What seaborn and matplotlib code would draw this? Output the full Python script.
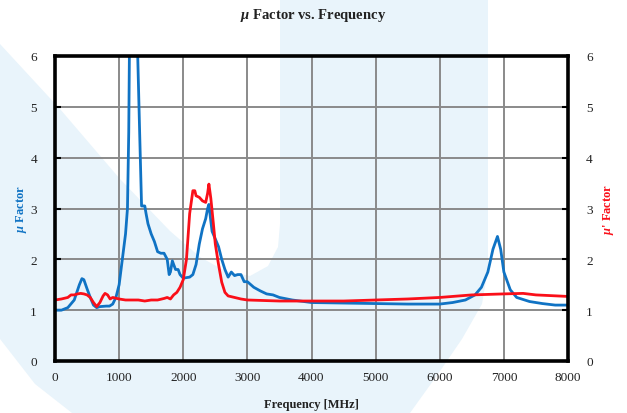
import numpy as np
import pandas as pd
import matplotlib
matplotlib.use("Agg")
import matplotlib.pyplot as plt
from matplotlib.patches import Polygon
import seaborn as sns

# ---- data ----
mu_freq = [0, 100, 200, 300, 380, 420, 450, 500, 550, 600, 650, 700, 800, 850, 900, 950,
           1000, 1050, 1100, 1130, 1150, 1170, 1210, 1260, 1290, 1320, 1350, 1400, 1420,
           1450, 1500, 1550, 1600, 1650, 1700, 1750, 1780, 1800, 1830, 1850, 1880, 1920,
           1950, 2000, 2100, 2150, 2200, 2250, 2300, 2350, 2380, 2400, 2430, 2450, 2500,
           2550, 2600, 2650, 2700, 2750, 2800, 2850, 2900, 2950, 3000, 3100, 3200, 3300,
           3400, 3500, 3700, 4000, 4500, 5000, 5500, 6000, 6200, 6400, 6550, 6650, 6750,
           6830, 6900, 6950, 7000, 7100, 7200, 7400, 7600, 7800, 8000]
mu_val = [1.00, 1.00, 1.05, 1.20, 1.50, 1.62, 1.60, 1.42, 1.25, 1.10, 1.05, 1.07, 1.08, 1.08,
          1.12, 1.25, 1.50, 2.00, 2.50, 3.00, 4.50, 7.50, 9.50, 8.00, 6.00, 4.50, 3.05, 3.05,
          2.90, 2.70, 2.50, 2.35, 2.15, 2.12, 2.12, 2.00, 1.70, 1.75, 1.97, 1.90, 1.80, 1.80,
          1.70, 1.63, 1.65, 1.70, 1.90, 2.30, 2.60, 2.80, 3.00, 3.08, 2.75, 2.55, 2.40, 2.25,
          2.00, 1.80, 1.65, 1.75, 1.68, 1.70, 1.70, 1.56, 1.56, 1.45, 1.38, 1.32, 1.30, 1.25,
          1.20, 1.15, 1.14, 1.13, 1.12, 1.12, 1.15, 1.20, 1.30, 1.45, 1.75, 2.20, 2.45, 2.20,
          1.75, 1.40, 1.25, 1.17, 1.13, 1.10, 1.10]

mup_freq = [0, 100, 200, 250, 300, 350, 400, 450, 500, 550, 600, 650, 700, 750, 780, 820,
            860, 900, 1000, 1100, 1200, 1300, 1400, 1500, 1600, 1700, 1750, 1800, 1850,
            1900, 1950, 2000, 2050, 2100, 2150, 2180, 2200, 2250, 2300, 2350, 2380, 2400,
            2430, 2470, 2500, 2550, 2600, 2650, 2700, 2800, 2900, 3000, 3500, 4000, 4500,
            5000, 5500, 6000, 6500, 7000, 7300, 7500, 8000]
mup_val = [1.20, 1.22, 1.25, 1.30, 1.30, 1.32, 1.33, 1.32, 1.30, 1.25, 1.15, 1.07, 1.15,
           1.28, 1.33, 1.30, 1.22, 1.25, 1.22, 1.20, 1.20, 1.20, 1.18, 1.20, 1.20, 1.23,
           1.25, 1.22, 1.30, 1.35, 1.45, 1.60, 2.00, 2.90, 3.35, 3.35, 3.25, 3.22, 3.15,
           3.12, 3.30, 3.48, 3.20, 2.70, 2.30, 1.90, 1.55, 1.35, 1.28, 1.25, 1.22, 1.20,
           1.18, 1.18, 1.18, 1.20, 1.22, 1.25, 1.30, 1.32, 1.33, 1.30, 1.27]

x_ticks = [0, 1000, 2000, 3000, 4000, 5000, 6000, 7000, 8000]
y_ticks = [0, 1, 2, 3, 4, 5, 6]

BLUE = "#1073c4"
RED = "#fa0f19"

sns.set_theme(style="white")
plt.rcParams["font.family"] = ["Liberation Serif", "DejaVu Serif"]
plt.rcParams["mathtext.fontset"] = "custom"
plt.rcParams["mathtext.it"] = "Liberation Serif:italic:bold"
plt.rcParams["mathtext.rm"] = "Liberation Serif:bold"
plt.rcParams["mathtext.bf"] = "Liberation Serif:bold"

W, H = 627, 414
fig = plt.figure(figsize=(W / 100, H / 100), dpi=100)
fig.patch.set_facecolor("white")

# ---- light watermark shape behind the chart ----
def fp(pts):
    return [(x / W, 1 - y / H) for x, y in pts]

wm = [(0, 45), (60, 110), (120, 180), (170, 232), (200, 258), (225, 272), (250, 277),
      (268, 267), (278, 248), (280, 225), (280, 0), (488, 0), (488, 270), (482, 305),
      (462, 340), (438, 375), (410, 414), (72, 414), (35, 385), (0, 340)]
fig.patches.append(Polygon(fp(wm), closed=True, transform=fig.transFigure,
                           facecolor="#e9f4fb", edgecolor="none", zorder=-10))

ax = fig.add_axes([55 / W, 1 - 362 / H, (568 - 55) / W, (362 - 57) / H])
ax.set_facecolor("none")
ax.set_zorder(2)

df_mu = pd.DataFrame({"freq": mu_freq, "val": mu_val})
df_mup = pd.DataFrame({"freq": mup_freq, "val": mup_val})
sns.lineplot(data=df_mup, x="freq", y="val", ax=ax, color=RED, lw=2.0, zorder=3)
sns.lineplot(data=df_mu, x="freq", y="val", ax=ax, color=BLUE, lw=2.0, zorder=2)

ax.set_xlim(0, 8000)
ax.set_ylim(0, 6)
ax.set_xticks(x_ticks)
ax.set_yticks(y_ticks)
ax.grid(True, color="#8a8a8a", lw=1.4)
ax.set_axisbelow(True)
for s in ax.spines.values():
    s.set_color("black")
    s.set_linewidth(2.6)
    s.set_zorder(5)
ax.tick_params(axis="both", labelsize=9.5, colors="#222222", length=0, pad=7)
ax.tick_params(axis="y", direction="in", length=4, width=1.5, color="black", pad=13)
ax.set_xlabel("Frequency [MHz]", fontsize=9, fontweight="bold", color="#222222", labelpad=11)
ax.set_ylabel(r"$\mu$ Factor", fontsize=9, fontweight="bold", color=BLUE, labelpad=1)

ax2 = ax.twinx()
ax2.set_zorder(3)
ax2.patch.set_visible(False)
ax2.set_ylim(0, 6)
ax2.set_yticks(y_ticks)
ax2.tick_params(axis="y", direction="in", length=4, width=1.5, color="black",
                labelsize=9.5, labelcolor="#222222", pad=13)
for s in ax2.spines.values():
    s.set_visible(False)
ax2.set_ylabel(r"$\mu$' Factor", fontsize=9, fontweight="bold", color=RED, labelpad=6)
ax2.grid(False)

fig.text(0.5, 1 - 15 / H, r"$\mu$ Factor vs. Frequency", ha="center", va="center",
         fontsize=10.5, fontweight="bold", color="#222222")

fig.savefig("out.png", dpi=100)
